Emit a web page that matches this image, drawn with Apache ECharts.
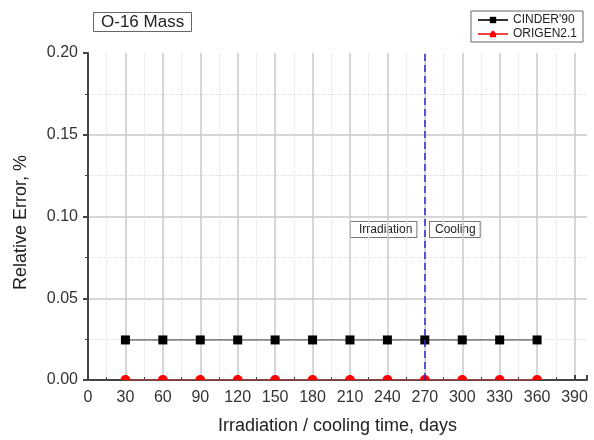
<!DOCTYPE html>
<html><head><meta charset="utf-8">
<script src="https://cdn.jsdelivr.net/npm/echarts@6/dist/echarts.min.js"></script>
<style>html,body{margin:0;padding:0;background:#fff}#c{width:594px;height:440px}</style>
</head><body><div id="c"></div>
<script>
const times = [30, 60, 90, 120, 150, 180, 210, 240, 270, 300, 330, 360];
const cinder = [0.0245, 0.0245, 0.0245, 0.0245, 0.0245, 0.0245, 0.0245, 0.0245, 0.0245, 0.0245, 0.0245, 0.0245];
const origen = [0, 0, 0, 0, 0, 0, 0, 0, 0, 0, 0, 0];
const boundary = 270;

const F = 'Liberation Sans, Arial, sans-serif';
const chart = echarts.init(document.getElementById('c'));
chart.setOption({
  animation: false,
  backgroundColor: '#fff',
  grid: {left: 88, right: 7, top: 53, bottom: 60},
  title: {
    text: 'O-16 Mass', left: 93, top: 12,
    borderColor: '#666', borderWidth: 1, padding: [2, 8, 1, 8],
    textStyle: {fontFamily: F, fontSize: 17, fontWeight: 'normal', color: '#222'}
  },
  legend: {
    right: 11, top: 11, orient: 'vertical', itemGap: 2,
    borderColor: '#666', borderWidth: 1, padding: [3, 6, 2, 6],
    itemWidth: 30, itemHeight: 8,
    textStyle: {fontFamily: F, fontSize: 12, color: '#222'},
    data: ['CINDER\'90', 'ORIGEN2.1']
  },
  xAxis: {
    type: 'value', min: 0, max: 400, interval: 30,
    name: 'Irradiation / cooling time, days', nameLocation: 'middle', nameGap: 37,
    nameTextStyle: {fontFamily: F, fontSize: 18, color: '#222'},
    axisLine: {lineStyle: {color: '#444', width: 2}},
    axisTick: {inside: true, length: 5, lineStyle: {color: '#444', width: 2}},
    minorTick: {show: true, splitNumber: 2, length: 3, lineStyle: {color: '#444'}},
    axisLabel: {fontFamily: F, fontSize: 16, color: '#333', margin: 10,
      formatter: v => (v === 400 ? '' : String(v))},
    splitLine: {show: true, showMaxLine: false, lineStyle: {color: '#c8c8c8', width: 1.5}},
    minorSplitLine: {show: true, lineStyle: {color: '#ddd', type: 'dotted'}}
  },
  yAxis: {
    type: 'value', min: 0, max: 0.2, interval: 0.05,
    name: 'Relative Error, %', nameLocation: 'middle', nameGap: 58,
    nameTextStyle: {fontFamily: F, fontSize: 18, color: '#222', padding: [0, 0, 0, -12]},
    axisLine: {show: true, lineStyle: {color: '#444', width: 2}},
    axisTick: {show: true, length: 5, lineStyle: {color: '#444', width: 2}},
    minorTick: {show: true, splitNumber: 2, length: 3, lineStyle: {color: '#444'}},
    axisLabel: {fontFamily: F, fontSize: 16, color: '#333', margin: 10,
      formatter: v => v.toFixed(2)},
    splitLine: {show: true, showMinLine: false, showMaxLine: false, lineStyle: {color: '#c8c8c8', width: 1.5}},
    minorSplitLine: {show: true, lineStyle: {color: '#ddd', type: 'dotted'}}
  },
  series: [
    {
      name: 'CINDER\'90', type: 'line', symbol: 'rect', symbolSize: 9,
      data: times.map((t, i) => [t, cinder[i]]),
      itemStyle: {color: '#000'}, lineStyle: {color: '#333', width: 1},
      markLine: {
        silent: true, symbol: 'none', label: {show: false},
        lineStyle: {color: '#2a2ad0', type: [7, 4], width: 1.5},
        data: [{xAxis: boundary}]
      },
      z: 3
    },
    {
      name: 'ORIGEN2.1', type: 'line', legendIcon: 'circle',
      symbol: 'path://M0,10 A10,10 0 0 1 20,10 Z', symbolSize: [10, 5], symbolOffset: [0, -2.5],
      data: times.map((t, i) => [t, origen[i]]),
      itemStyle: {color: '#f00'}, lineStyle: {color: '#e44', width: 1},
      z: 4
    }
  ],
  graphic: [
    {type: 'text', left: 350, top: 221, style: {text: 'Irradiation', font: '12px ' + F, fill: '#222',
      backgroundColor: '#fff', borderColor: '#777', borderWidth: 1, padding: [2, 4, 1, 8]}},
    {type: 'text', left: 429, top: 221, style: {text: 'Cooling', font: '12px ' + F, fill: '#222',
      backgroundColor: '#fff', borderColor: '#777', borderWidth: 1, padding: [2, 4, 1, 5]}}
  ]
});
</script></body></html>
